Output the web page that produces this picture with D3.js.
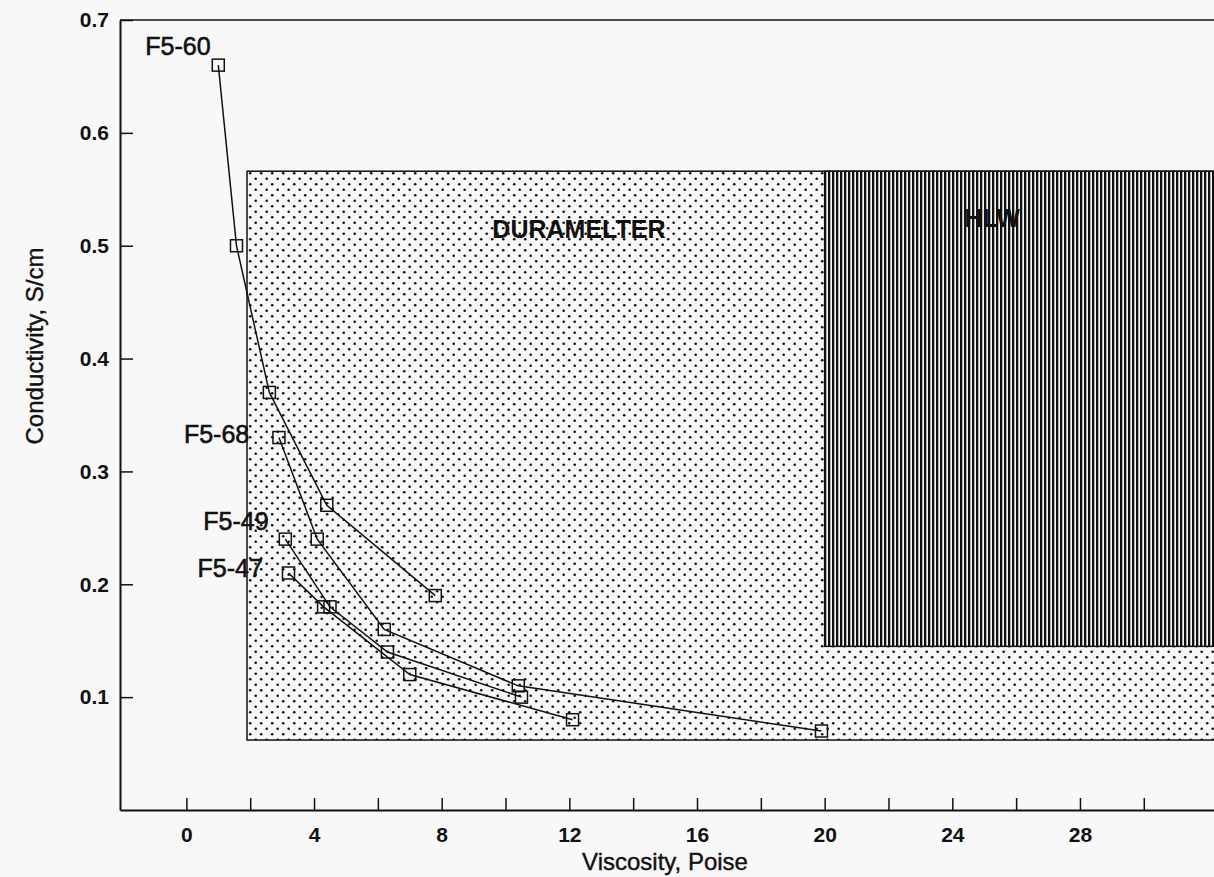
<!DOCTYPE html>
<html>
<head>
<meta charset="utf-8">
<script src="https://cdn.jsdelivr.net/npm/d3@7"></script>
<style>
  body { margin: 0; background: #f8f8f8; }
  svg { display: block; font-family: "Liberation Sans", Arial, sans-serif; }
</style>
</head>
<body>
<div id="chart"></div>
<script>
// data (viscosity in poise, conductivity in S/cm)
const seriesNames = ["F5-60", "F5-68", "F5-49", "F5-47"];
const f560 = [[1.0, 0.66], [1.57, 0.50], [2.6, 0.37], [4.4, 0.27], [7.8, 0.19]];
const f568 = [[2.9, 0.33], [4.1, 0.24], [6.2, 0.16], [10.4, 0.11], [19.9, 0.07]];
const f549 = [[3.1, 0.24], [4.5, 0.18], [6.3, 0.14], [10.5, 0.10]];
const f547 = [[3.2, 0.21], [4.3, 0.18], [7.0, 0.12], [12.1, 0.08]];
const allSeries = [f560, f568, f549, f547];

// operating regions: [xmin, xmax, ymin, ymax]
const regionNames = ["DURAMELTER", "HLW"];
const regions = [[1.9, 40, 0.062, 0.566], [20, 40, 0.145, 0.566]];

const xTicks = d3.range(0, 31, 2);
const yTicks = [0.1, 0.2, 0.3, 0.4, 0.5, 0.6, 0.7];

// chart size
const width = 1214,
  height = 877;
const margin = { top: 20, right: 0, bottom: 67, left: 120 };

const x = d3.scaleLinear().domain([-2.08, 32.2]).range([margin.left, width - margin.right]);
const y = d3.scaleLinear().domain([0, 0.7]).range([height - margin.bottom, margin.top]);

const svg = d3.select("#chart").append("svg").attr("width", width).attr("height", height);

const defs = svg.append("defs");

// dotted fill for the duramelter box
const dots = defs.append("pattern")
  .attr("id", "dots")
  .attr("patternUnits", "userSpaceOnUse")
  .attr("width", 11).attr("height", 11);
dots.append("rect").attr("width", 11).attr("height", 11).attr("fill", "#f8f8f8");
dots.append("circle").attr("cx", 2.7).attr("cy", 2.7).attr("r", 1.3).attr("fill", "#111");
dots.append("circle").attr("cx", 8.2).attr("cy", 8.2).attr("r", 1.3).attr("fill", "#111");

// vertical hatching for the HLW box
const stripes = defs.append("pattern")
  .attr("id", "stripes")
  .attr("patternUnits", "userSpaceOnUse")
  .attr("width", 4).attr("height", 4);
stripes.append("rect").attr("width", 4).attr("height", 4).attr("fill", "#f8f8f8");
stripes.append("rect").attr("x", 0).attr("width", 2.3).attr("height", 4).attr("fill", "#111");

defs.append("clipPath").attr("id", "plotclip")
  .append("rect")
  .attr("x", margin.left).attr("y", margin.top)
  .attr("width", width - margin.left - margin.right)
  .attr("height", height - margin.top - margin.bottom);

const plot = svg.append("g").attr("clip-path", "url(#plotclip)");

// regions
plot.selectAll("rect.region")
  .data(regions)
  .enter()
  .append("rect")
  .attr("class", "region")
  .attr("x", d => x(d[0]))
  .attr("y", d => y(d[3]))
  .attr("width", d => x(d[1]) - x(d[0]))
  .attr("height", d => y(d[2]) - y(d[3]))
  .attr("fill", (d, i) => i === 0 ? "url(#dots)" : "url(#stripes)")
  .attr("stroke", "#111")
  .attr("stroke-width", 1.5);

// region labels
const regionLabelPos = [[12.3, 0.507], [25.25, 0.517]];
plot.selectAll("text.region")
  .data(regionNames)
  .enter()
  .append("text")
  .attr("class", "region")
  .attr("x", (d, i) => x(regionLabelPos[i][0]))
  .attr("y", (d, i) => y(regionLabelPos[i][1]))
  .attr("text-anchor", "middle")
  .style("font-size", "25px")
  .style("font-weight", "bold")
  .attr("fill", "#111")
  .text(d => d);

// lines
const line = d3.line().x(d => x(d[0])).y(d => y(d[1]));
plot.selectAll("path.series")
  .data(allSeries)
  .enter()
  .append("path")
  .attr("class", "series")
  .attr("d", line)
  .attr("fill", "none")
  .attr("stroke", "#111")
  .attr("stroke-width", 1.5);

// square markers
const sq = 12;
allSeries.forEach(s => {
  plot.selectAll(null)
    .data(s)
    .enter()
    .append("rect")
    .attr("x", d => x(d[0]) - sq / 2)
    .attr("y", d => y(d[1]) - sq / 2)
    .attr("width", sq)
    .attr("height", sq)
    .attr("fill", "none")
    .attr("stroke", "#111")
    .attr("stroke-width", 1.5);
});

// series labels, placed to the upper left of the first point
const labelOffsets = [[-73, -10], [-95, 5], [-82, -9], [-91, 4]];
svg.selectAll("text.serieslabel")
  .data(seriesNames)
  .enter()
  .append("text")
  .attr("class", "serieslabel")
  .attr("x", (d, i) => x(allSeries[i][0][0]) + labelOffsets[i][0])
  .attr("y", (d, i) => y(allSeries[i][0][1]) + labelOffsets[i][1])
  .style("font-size", "25px")
  .attr("fill", "#111")
  .attr("stroke", "#111")
  .attr("stroke-width", 0.6)
  .text(d => d);

// top frame line
svg.append("line")
  .attr("x1", margin.left).attr("x2", width)
  .attr("y1", margin.top).attr("y2", margin.top)
  .attr("stroke", "#111").attr("stroke-width", 1.5);

// x axis
const xAxis = svg.append("g")
  .attr("transform", `translate(0,${height - margin.bottom})`)
  .call(d3.axisBottom(x)
    .tickValues(xTicks)
    .tickSizeInner(-12)
    .tickSizeOuter(0)
    .tickPadding(17)
    .tickFormat(d => d % 4 === 0 ? d : ""));

// y axis
const yAxis = svg.append("g")
  .attr("transform", `translate(${margin.left},0)`)
  .call(d3.axisLeft(y)
    .tickValues(yTicks)
    .tickSizeInner(-13)
    .tickSizeOuter(0)
    .tickPadding(11)
    .tickFormat(d3.format(".1f")));

[xAxis, yAxis].forEach(a => {
  a.select(".domain").attr("stroke", "#111").attr("stroke-width", 2);
  a.selectAll(".tick line").attr("stroke", "#111").attr("stroke-width", 1.5);
  a.selectAll(".tick text")
    .attr("fill", "#111")
    .style("font-size", "21px")
    .style("font-weight", "bold")
    .style("font-family", "Liberation Sans, Arial, sans-serif");
});

// axis titles
svg.append("text")
  .attr("x", 665)
  .attr("y", 870)
  .attr("text-anchor", "middle")
  .style("font-size", "24px")
  .attr("fill", "#111")
  .attr("stroke", "#111")
  .attr("stroke-width", 0.4)
  .text("Viscosity, Poise");

svg.append("text")
  .attr("transform", "translate(43,346) rotate(-90)")
  .attr("text-anchor", "middle")
  .style("font-size", "24px")
  .attr("fill", "#111")
  .attr("stroke", "#111")
  .attr("stroke-width", 0.4)
  .text("Conductivity, S/cm");
</script>
</body>
</html>
